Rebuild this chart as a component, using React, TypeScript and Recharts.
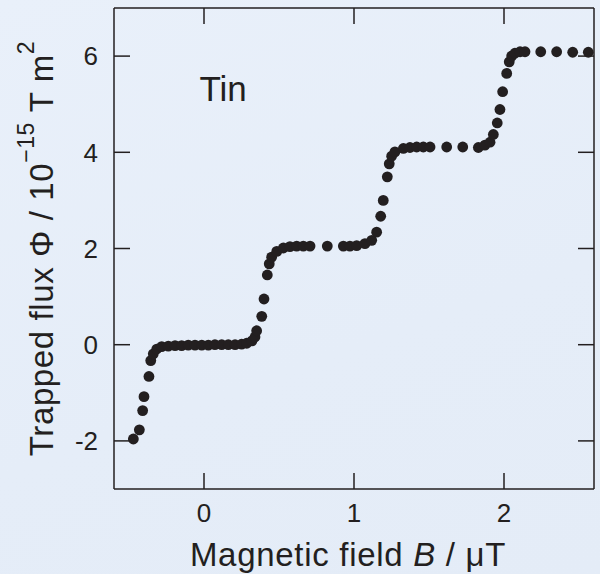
import React from 'react';
import { ScatterChart, Scatter, XAxis, YAxis, ReferenceDot } from 'recharts';

// Magnetic field B (µT)
const fieldB = [
  -0.471, -0.431, -0.409, -0.4, -0.367, -0.355, -0.338, -0.315, -0.282, -0.238,
  -0.193, -0.149, -0.105, -0.06, -0.015, 0.029, 0.073, 0.118, 0.162, 0.207,
  0.251, 0.285, 0.32, 0.34, 0.351, 0.385, 0.4, 0.422, 0.435, 0.451,
  0.485, 0.529, 0.573, 0.618, 0.662, 0.707, 0.822, 0.929, 0.973, 1.018,
  1.073, 1.118, 1.151, 1.178, 1.195, 1.222, 1.235, 1.251, 1.273, 1.329,
  1.373, 1.418, 1.462, 1.507, 1.618, 1.725, 1.829, 1.873, 1.907, 1.929,
  1.955, 1.973, 1.991, 2.018, 2.035, 2.051, 2.073, 2.107, 2.14, 2.245,
  2.351, 2.458, 2.562,
];

// Trapped flux Φ (10^-15 T m^2)
const fluxPhi = [
  -1.96, -1.77, -1.37, -1.08, -0.66, -0.33, -0.19, -0.09, -0.04, -0.03,
  -0.02, -0.02, -0.01, -0.01, -0.01, -0.01, 0.0, 0.0, 0.0, 0.0,
  0.01, 0.03, 0.08, 0.16, 0.29, 0.59, 0.95, 1.45, 1.68, 1.82,
  1.94, 2.01, 2.04, 2.05, 2.05, 2.05, 2.05, 2.05, 2.05, 2.06,
  2.1, 2.17, 2.34, 2.67, 3.0, 3.49, 3.76, 3.92, 4.01, 4.08,
  4.1, 4.11, 4.11, 4.11, 4.11, 4.11, 4.1, 4.15, 4.21, 4.37,
  4.61, 4.89, 5.26, 5.64, 5.88, 6.0, 6.06, 6.09, 6.09, 6.09,
  6.09, 6.08, 6.08,
];

const xTicks = [0, 1, 2];
const yTicks = [-2, 0, 2, 4, 6];
const xDomain: [number, number] = [-0.6, 2.6];
const yDomain: [number, number] = [-3, 7];
const sampleName = 'Tin';
const sampleLabelAt = { b: 0.127, phi: 5.33 };

const data = fieldB.map((b, i) => ({ b, phi: fluxPhi[i] }));

const INK = '#231f20';
const FONT = '"Liberation Sans", Arial, Helvetica, sans-serif';

const Dot = (props: any) => (
  <circle cx={props.cx} cy={props.cy} r={5.4} fill={INK} />
);

const XTitle = (props: any) => {
  const vb = props.viewBox || {};
  const cx = vb.x + vb.width / 2 - 6;
  return (
    <text
      x={cx}
      y={566}
      textAnchor="middle"
      fontSize={33}
      letterSpacing={0.7}
      fontFamily={FONT}
      fill={INK}
    >
      <tspan>Magnetic field </tspan>
      <tspan fontStyle="italic">B</tspan>
      <tspan> / </tspan>
      <tspan>μT</tspan>
    </text>
  );
};

const YTitle = (props: any) => {
  const vb = props.viewBox || {};
  const cy = vb.y + vb.height / 2;
  const cx = 53;
  return (
    <text
      x={cx}
      y={cy}
      transform={`rotate(-90, ${cx}, ${cy})`}
      textAnchor="middle"
      fontSize={33}
      letterSpacing={0.6}
      fontFamily={FONT}
      fill={INK}
    >
      <tspan>Trapped flux Φ / 10</tspan>
      <tspan fontSize={23} dy={-19}>−15</tspan>
      <tspan dy={19}> T m</tspan>
      <tspan fontSize={23} dy={-19}>2</tspan>
    </text>
  );
};

export default function App() {
  return (
    <div
      style={{
        position: 'absolute',
        left: 0,
        top: 0,
        width: 600,
        height: 574,
        background: 'linear-gradient(160deg, #e9f0fa 0%, #e5edf8 60%, #e4ecf7 100%)',
      }}
    >
      <ScatterChart
        width={600}
        height={574}
        margin={{ top: 0, right: 0, bottom: 0, left: 0 }}
      >
        <XAxis
          xAxisId="b"
          dataKey="b"
          type="number"
          domain={xDomain}
          ticks={xTicks}
          allowDataOverflow
          height={85}
          tickSize={-16}
          tickMargin={31}
          stroke={INK}
          strokeWidth={1.5}
          tick={{ fontSize: 26, fill: INK, fontFamily: FONT }}
          label={(p: any) => <XTitle {...p} />}
        />
        <XAxis
          xAxisId="t"
          orientation="top"
          dataKey="b"
          type="number"
          domain={xDomain}
          ticks={xTicks}
          allowDataOverflow
          height={8}
          tickSize={-16}
          tickFormatter={() => ''}
          stroke={INK}
          strokeWidth={1.5}
        />
        <YAxis
          yAxisId="l"
          dataKey="phi"
          type="number"
          domain={yDomain}
          ticks={yTicks}
          allowDataOverflow
          width={114}
          tickSize={-16}
          tickMargin={32}
          stroke={INK}
          strokeWidth={1.5}
          tick={{ fontSize: 26, fill: INK, fontFamily: FONT }}
          label={(p: any) => <YTitle {...p} />}
        />
        <YAxis
          yAxisId="r"
          orientation="right"
          dataKey="phi"
          type="number"
          domain={yDomain}
          ticks={yTicks}
          allowDataOverflow
          width={6}
          tickSize={-16}
          tickFormatter={() => ''}
          stroke={INK}
          strokeWidth={1.5}
        />
        <Scatter
          data={data}
          xAxisId="b"
          yAxisId="l"
          fill={INK}
          shape={Dot}
          isAnimationActive={false}
        />
        <ReferenceDot
          xAxisId="b"
          yAxisId="l"
          x={sampleLabelAt.b}
          y={sampleLabelAt.phi}
          r={0}
          stroke="none"
          fill="none"
          label={{
            value: sampleName,
            position: 'center',
            fontSize: 35,
            fill: INK,
            fontFamily: FONT,
          }}
        />
      </ScatterChart>
    </div>
  );
}
